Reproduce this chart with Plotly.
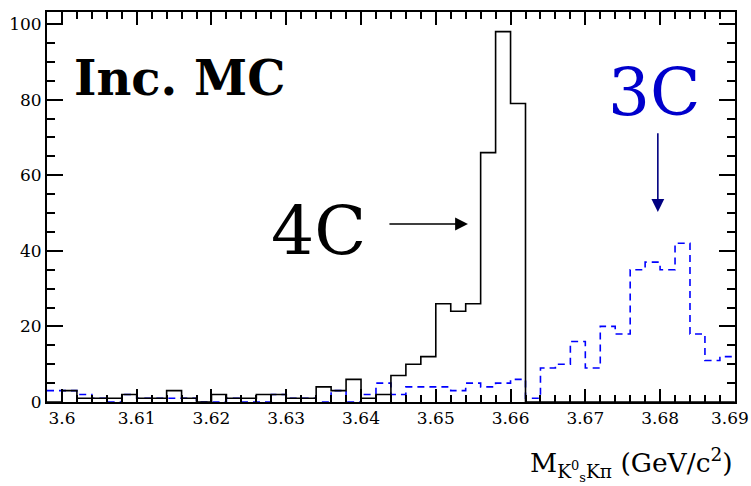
import numpy as np
import plotly.graph_objects as go

# Histogram binning: 46 bins of 2 MeV from 3.598 to 3.690 GeV/c^2
bin_lo = 3.598
bin_hi = 3.690
n_bins = 46

# Entries per bin, 4C kinematic fit (solid black)
counts_4c = [0, 3, 1, 1, 1, 2, 1, 1, 3, 1, 0, 2, 1, 1, 2, 2, 1, 1, 4, 3, 6, 1, 2, 7,
             10, 12, 26, 24, 26, 66, 98, 79, 0, 0, 0, 0, 0, 0, 0, 0, 0, 0, 0, 0, 0, 0]

# Entries per bin, 3C kinematic fit (dashed blue)
counts_3c = [3, 3, 2, 1, 0, 2, 1, 1, 1, 1, 0, 0, 1, 0, 0, 2, 1, 1, 0, 3, 0, 2, 5, 2,
             4, 4, 4, 3, 5, 4, 5, 6, 1, 9, 10, 16, 9, 20, 18, 35, 37, 35, 42, 18, 11, 12]

y_ticks = [0, 20, 40, 60, 80, 100]
x_ticks = [3.60, 3.61, 3.62, 3.63, 3.64, 3.65, 3.66, 3.67, 3.68, 3.69]
# the last label sits on the frame edge and is placed separately, flush right
x_tick_text = ["3.6", "3.61", "3.62", "3.63", "3.64", "3.65", "3.66", "3.67", "3.68", ""]
x_last_label = "3.69"

edges = np.linspace(bin_lo, bin_hi, n_bins + 1)


def step_xy(vals):
    xs = list(edges)
    ys = list(vals) + [vals[-1]]
    return xs, ys


SERIF = "DejaVu Serif"
TICK_SIZE = 17

fig = go.Figure()

x3, y3 = step_xy(counts_3c)
fig.add_trace(go.Scatter(
    x=x3, y=y3, mode="lines", line_shape="hv",
    line=dict(color="#0000ff", width=1.6, dash="7px,5px"),
    hoverinfo="skip", showlegend=False,
))

x4, y4 = step_xy(counts_4c)
fig.add_trace(go.Scatter(
    x=x4, y=y4, mode="lines", line_shape="hv",
    line=dict(color="#000000", width=1.6),
    hoverinfo="skip", showlegend=False,
))

fig.update_xaxes(
    range=[bin_lo, bin_hi + 0.00002],
    automargin=False,
    tickmode="array", tickvals=x_ticks, ticktext=x_tick_text,
    ticks="inside", ticklen=13, tickwidth=1.5, tickcolor="black",
    minor=dict(dtick=0.002, tick0=bin_lo, ticks="inside", ticklen=7,
               tickwidth=1.5, tickcolor="black"),
    showline=True, linewidth=2, linecolor="black", mirror="ticks",
    showgrid=False, zeroline=False,
    tickfont=dict(family=SERIF, size=TICK_SIZE, color="black"),
)
fig.update_yaxes(
    range=[0, 103.2],
    automargin=False,
    tickmode="array", tickvals=y_ticks,
    ticks="inside", ticklen=16, tickwidth=1.5, tickcolor="black",
    minor=dict(dtick=5, ticks="inside", ticklen=8, tickwidth=1.5, tickcolor="black"),
    showline=True, linewidth=2, linecolor="black", mirror="ticks",
    showgrid=False, zeroline=False,
    tickfont=dict(family=SERIF, size=TICK_SIZE, color="black"),
)

annotations = [
    dict(x=0.037, y=0.83, xref="paper", yref="paper", xanchor="left", yanchor="middle",
         text="<b>Inc. MC</b>", showarrow=False,
         font=dict(family=SERIF, size=48, color="black")),
    dict(x=3.6409, y=45.5, xref="x", yref="y", xanchor="right", yanchor="middle",
         text="4C", showarrow=False,
         font=dict(family=SERIF, size=68, color="black")),
    dict(x=3.6793, y=81.8, xref="x", yref="y", xanchor="center", yanchor="middle",
         text="3C", showarrow=False,
         font=dict(family=SERIF, size=66, color="#0000cc")),
    # 4C arrow pointing right toward the 4C peak
    dict(x=3.6543, y=47.1, ax=3.6436, ay=47.1, xref="x", yref="y", axref="x", ayref="y",
         text="", showarrow=True, arrowhead=2, arrowsize=1.6, arrowwidth=1.6,
         arrowcolor="black"),
    # 3C arrow pointing down toward the 3C peak
    dict(x=3.6797, y=50.3, ax=3.6797, ay=71.5, xref="x", yref="y", axref="x", ayref="y",
         text="", showarrow=True, arrowhead=2, arrowsize=1.6, arrowwidth=1.6,
         arrowcolor="#000080"),
    # last x tick label, kept inside the page
    dict(x=1.0218, y=-0.04, xref="paper", yref="paper", xanchor="right", yanchor="middle",
         text=x_last_label, showarrow=False, borderpad=0,
         font=dict(family=SERIF, size=TICK_SIZE, color="black")),
    # x-axis title
    dict(x=1.0, y=-0.16, xref="paper", yref="paper", xanchor="right", yanchor="middle",
         text="M<sub>K<sup>0</sup><sub>s</sub>Kπ</sub> (GeV/c<sup>2</sup>)", showarrow=False,
         font=dict(family=SERIF, size=26.5, color="black")),
]

fig.update_layout(
    width=751, height=486,
    margin=dict(l=47, r=16, t=12, b=84),
    paper_bgcolor="white", plot_bgcolor="white",
    font=dict(family=SERIF, color="black"),
    annotations=annotations,
    showlegend=False,
)

fig.write_html("out.html")
